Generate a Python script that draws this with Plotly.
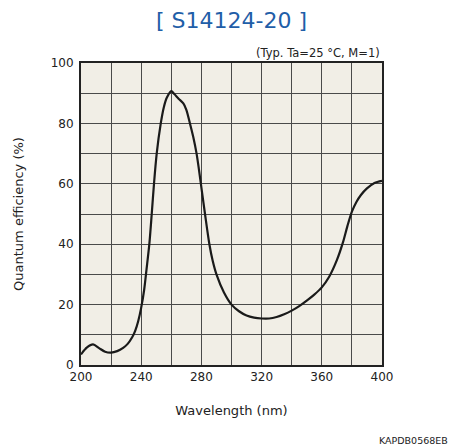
import plotly.graph_objects as go

wavelength = [200, 204, 208, 212, 216, 220, 224, 228, 231, 234, 236, 238, 240, 242, 243.5, 245.4, 247,
              248.5, 250.3, 253, 255, 257, 260, 262, 265, 268, 270, 272.4, 274.6, 276.8, 278.4, 280.2,
              282.4, 285.3, 287.5, 290, 295, 300, 305, 310, 315, 320, 325, 330, 335, 340, 345, 350, 355,
              360, 365, 370, 374, 377, 380, 383, 386, 390, 395, 400]
qe = [3.5, 5.8, 6.8, 5.6, 4.4, 4.1, 4.6, 5.7, 7.0, 9.2, 11.3, 14.5, 19.0, 25.0, 31.5, 40.0, 50.0,
      60.0, 70.0, 80.0, 85.3, 88.5, 90.7, 89.7, 88.1, 86.6, 84.5, 80.0, 75.5, 70.0, 64.6, 58.0,
      50.0, 40.0, 34.5, 30.0, 24.0, 20.0, 17.8, 16.4, 15.7, 15.4, 15.4, 15.9, 16.8, 18.0, 19.5, 21.3, 23.3,
      25.7, 29.3, 34.7, 40.5, 46.0, 50.8, 54.0, 56.3, 58.5, 60.3, 61.0]

x_ticks = [200, 240, 280, 320, 360, 400]
y_ticks = [0, 20, 40, 60, 80, 100]

FONT = "DejaVu Sans"

fig = go.Figure()
fig.add_trace(go.Scatter(x=wavelength, y=qe, mode="lines",
                         line=dict(color="#1a1a1a", width=2.2, shape="spline", smoothing=0.8),
                         hoverinfo="skip", showlegend=False))

axis_common = dict(showline=True, linecolor="#222", linewidth=2, mirror=True,
                   showgrid=True, gridcolor="#4a4a4a", gridwidth=1,
                   ticks="", zeroline=False,
                   tickfont=dict(family=FONT, size=12, color="#222"))

fig.update_xaxes(range=[200, 400], tickvals=x_ticks, ticktext=[str(v) for v in x_ticks],
                 minor=dict(dtick=20, showgrid=True, gridcolor="#4a4a4a", gridwidth=1),
                 title=dict(text="Wavelength (nm)", font=dict(family=FONT, size=13, color="#222"), standoff=22),
                 **axis_common)
fig.update_yaxes(range=[0, 100], tickvals=y_ticks, ticktext=[str(v) for v in y_ticks],
                 minor=dict(dtick=10, showgrid=True, gridcolor="#4a4a4a", gridwidth=1),
                 ticklabelstandoff=3,
                 title=dict(text="Quantum efficiency (%)", font=dict(family=FONT, size=13, color="#222"), standoff=24),
                 **axis_common)

fig.update_layout(
    width=463, height=447,
    margin=dict(l=81, r=81, t=63, b=82),
    paper_bgcolor="white", plot_bgcolor="#f1eee6",
    title=dict(text="[ S14124-20 ]", x=0.5, xanchor="center", y=1 - 20 / 447, yanchor="middle",
               font=dict(family=FONT, size=22, color="#1f5ea8")),
    annotations=[
        dict(text="(Typ. Ta=25 °C, M=1)", xref="paper", yref="paper", x=1, y=1, xanchor="right",
             yanchor="bottom", yshift=1, showarrow=False, font=dict(family=FONT, size=11.5, color="#222")),
        dict(text="KAPDB0568EB", xref="paper", yref="paper", x=(450 - 81) / 301, y=-(440 - 365) / 302,
             xanchor="right", yanchor="middle", showarrow=False, font=dict(family=FONT, size=9.5, color="#222")),
    ],
)

fig.write_html("out.html")
